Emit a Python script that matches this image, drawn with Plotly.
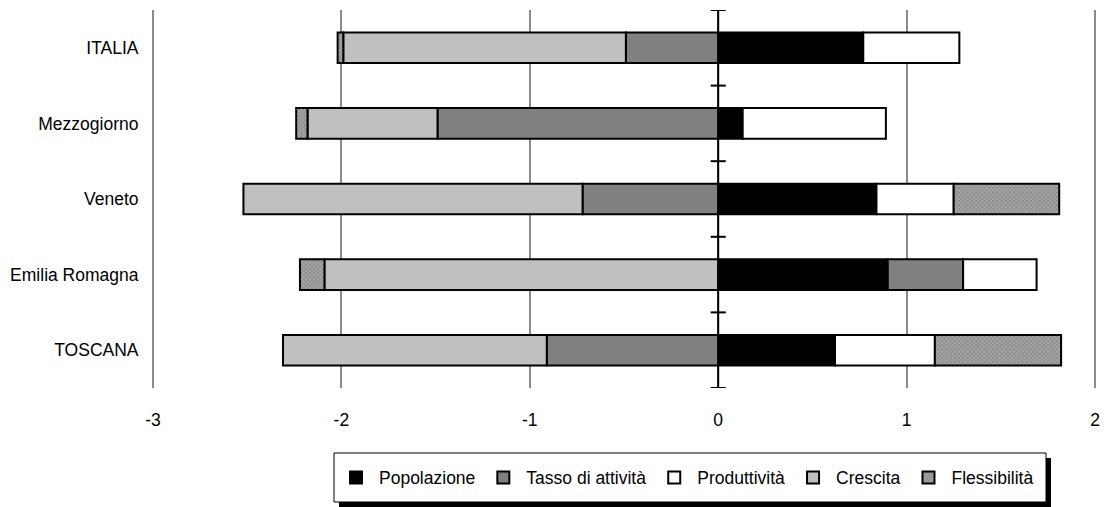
import plotly.graph_objects as go

# Regions (top to bottom) and the contribution of each component
categories = ["ITALIA", "Mezzogiorno", "Veneto", "Emilia Romagna", "TOSCANA"]
popolazione = [0.77, 0.13, 0.84, 0.90, 0.62]
tasso_attivita = [-0.49, -1.49, -0.72, 0.40, -0.91]
produttivita = [0.51, 0.76, 0.41, 0.39, 0.53]
crescita = [-1.50, -0.69, -1.80, -2.09, -1.40]
flessibilita = [-0.03, -0.06, 0.56, -0.13, 0.67]

x_ticks = [-3, -2, -1, 0, 1, 2]

FONT = "Liberation Sans, Arial, sans-serif"
FSIZE = 17.5
GRID = "#8a8a8a"

series = [
    ("Popolazione", popolazione, dict(color="#000000")),
    ("Tasso di attività", tasso_attivita, dict(color="#808080")),
    ("Produttività", produttivita, dict(color="#ffffff")),
    ("Crescita", crescita, dict(color="#c0c0c0")),
    ("Flessibilità", flessibilita, dict(
        color="#999999",
        pattern=dict(shape="x", fgcolor="#555555", bgcolor="#a6a6a6",
                     size=3, solidity=0.4, fillmode="overlay"),
    )),
]

fig = go.Figure()
for name, vals, mk in series:
    fig.add_trace(go.Bar(
        y=categories, x=vals, name=name, orientation="h",
        marker=dict(line=dict(color="#000000", width=2), **mk),
    ))

n = len(categories)
shapes = []
# Gridlines at both ends of the value range (paper x so they are not clipped)
for xp in (0, 1):
    shapes.append(dict(type="line", xref="paper", yref="y", x0=xp, x1=xp,
                       y0=-0.5, y1=n - 0.5, line=dict(color=GRID, width=2),
                       layer="below"))
# Vertical category axis crossing at zero, with tick marks between regions
shapes.append(dict(type="line", xref="x", yref="y", x0=0, x1=0, y0=-0.5, y1=n - 0.5,
                   line=dict(color="#000000", width=2), layer="above"))
for k in range(n + 1):
    shapes.append(dict(type="line", xref="x", yref="y", x0=-0.04, x1=0.04,
                       y0=k - 0.5, y1=k - 0.5,
                       line=dict(color="#000000", width=2), layer="above"))

# Legend frame with a drop shadow
plot_l, plot_r, plot_t, plot_b = 153, 1095, 10, 388
pw, ph = plot_r - plot_l, plot_b - plot_t
def px(x):
    return (x - plot_l) / pw
def py(y):
    return (plot_b - y) / ph
shapes.append(dict(type="rect", xref="paper", yref="paper",
                   x0=px(339), x1=px(1051), y0=py(507), y1=py(458),
                   fillcolor="#000000", line=dict(width=0), layer="below"))
shapes.append(dict(type="rect", xref="paper", yref="paper",
                   x0=px(334), x1=px(1046), y0=py(502), y1=py(453),
                   fillcolor="#ffffff", line=dict(color="#000000", width=1),
                   layer="below"))

fig.update_layout(
    width=1107, height=507,
    margin=dict(l=plot_l, r=1107 - plot_r, t=plot_t, b=507 - plot_b),
    paper_bgcolor="#ffffff", plot_bgcolor="#ffffff",
    barmode="relative", bargap=0.595,
    font=dict(family=FONT, size=FSIZE, color="#000000"),
    showlegend=True,
    legend=dict(
        orientation="h", x=px(333), xanchor="left", y=py(477.5), yanchor="middle",
        bgcolor="rgba(0,0,0,0)", borderwidth=0,
        font=dict(family=FONT, size=FSIZE, color="#000000"),
        traceorder="normal", itemwidth=36,
    ),
    xaxis=dict(
        range=[-3, 2], tickvals=x_ticks, ticktext=[str(v) for v in x_ticks],
        showgrid=True, gridcolor=GRID, gridwidth=2,
        zeroline=False, showline=False, automargin=False,
        ticks="outside", ticklen=16, tickcolor="rgba(0,0,0,0)",
        fixedrange=True,
    ),
    yaxis=dict(
        categoryorder="array", categoryarray=categories,
        range=[n - 0.5, -0.5], automargin=False,
        showgrid=False, zeroline=False, showline=False,
        ticks="outside", ticklen=10, tickcolor="rgba(0,0,0,0)",
        fixedrange=True,
    ),
    shapes=shapes,
)

fig.write_html("out.html")
